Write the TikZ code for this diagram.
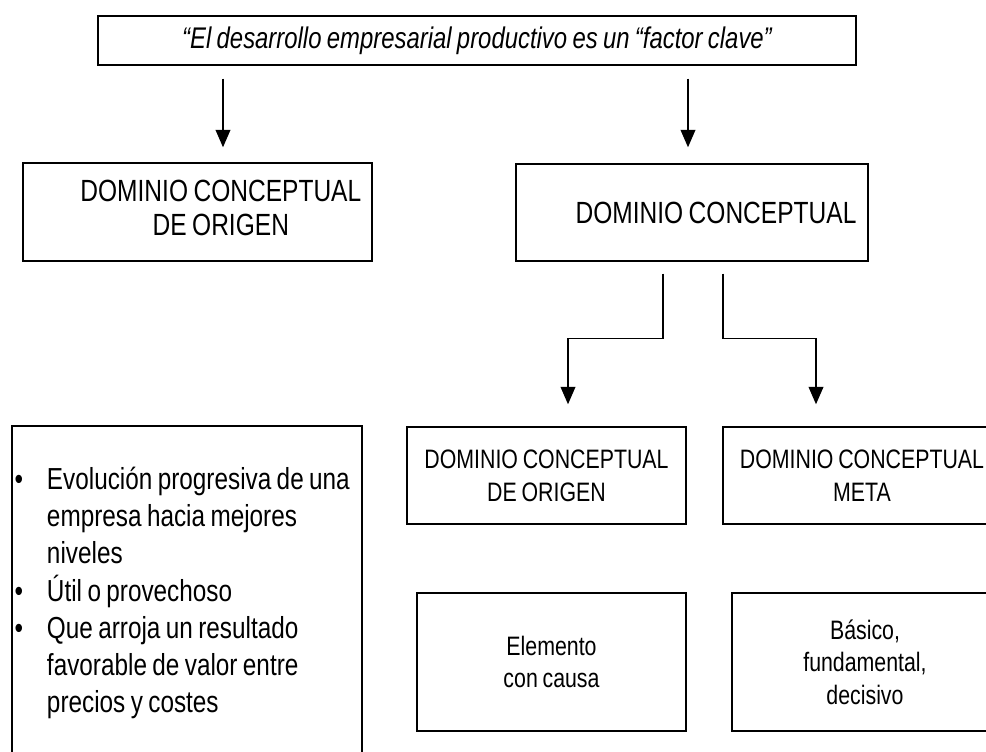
\documentclass[tikz,border=0pt]{standalone}
\usepackage{fontspec}
\setmainfont{Liberation Sans}[FakeStretch=0.8,WordSpace=0.8]
\usetikzlibrary{arrows.meta,calc}
\tikzstyle{caja} = [rectangle, draw, line width=1.1pt, align=center, inner sep=0pt]
\tikzstyle{grande} = [font=\fontsize{23}{25.5}\selectfont]
\tikzstyle{chica} = [font=\fontsize{20}{24.5}\selectfont]

\begin{document}
\begin{tikzpicture}[x=0.75pt,y=-0.75pt,>={Triangle[width=11pt,length=13pt]},
                    line width=1.1pt]
  \useasboundingbox (0,0) rectangle (986,751);
  \clip (0,0) rectangle (986,751);

  \node[caja,font=\fontsize{22.4}{25}\selectfont,minimum width=568.5pt,minimum height=36.75pt]
        (factor) at (477,40.5)
        {\itshape “El desarrollo empresarial productivo es un “factor clave”};
  \node[caja,grande,minimum width=261.75pt,minimum height=73.5pt] (origen) at (197.5,212)
        {\hspace*{35pt}\begin{tabular}{@{}c@{}}DOMINIO CONCEPTUAL\\DE ORIGEN\end{tabular}};
  \node[caja,grande,minimum width=264pt,minimum height=72.75pt] (dominio) at (692,212.5)
        {\hspace*{36pt}DOMINIO CONCEPTUAL};
  \node[caja,chica,minimum width=209.25pt,minimum height=72.75pt] (origen2) at (546.5,475.5)
        {DOMINIO CONCEPTUAL\\DE ORIGEN};
  \node[caja,chica,minimum width=208.5pt,minimum height=72.75pt] (meta) at (862,475.5)
        {DOMINIO CONCEPTUAL\\META};
  \node[caja,chica,minimum width=201.75pt,minimum height=103.5pt] (causa) at (551.5,662)
        {Elemento\\con causa};
  \node[caja,chica,minimum width=199.5pt,minimum height=103.5pt] (clave) at (865,662)
        {Básico,\\fundamental,\\decisivo};
  \node[caja,minimum width=262.5pt,minimum height=251.25pt,
        font=\fontsize{22.8}{27.75}\selectfont] (lista) at (187,593.5)
        {\begin{tabular}{@{}p{26.25pt}@{}p{236.25pt}@{}}
         \hspace*{2pt}• & Evolución progresiva de una\\
           & empresa hacia mejores\\
           & niveles\\
         \hspace*{2pt}• & Útil o provechoso\\
         \hspace*{2pt}• & Que arroja un resultado\\
           & favorable de valor entre\\
           & precios y costes
         \end{tabular}};

  \draw[->] ($(factor.south -| origen.north)+(25.5,13)$) -- ($(origen.north)+(25.5,-15)$);
  \draw[->] ($(factor.south -| dominio.north)+(-4,13)$) -- ($(dominio.north)+(-4,-16)$);
  \draw[->] ($(dominio.south)+(-29,12)$) -- ++(0,65) -| ($(origen2.north)+(21.5,-22)$);
  \draw[->] ($(dominio.south)+(31,12)$) -- ++(0,65) -| ($(meta.north)+(-46,-22)$);
\end{tikzpicture}
\end{document}
